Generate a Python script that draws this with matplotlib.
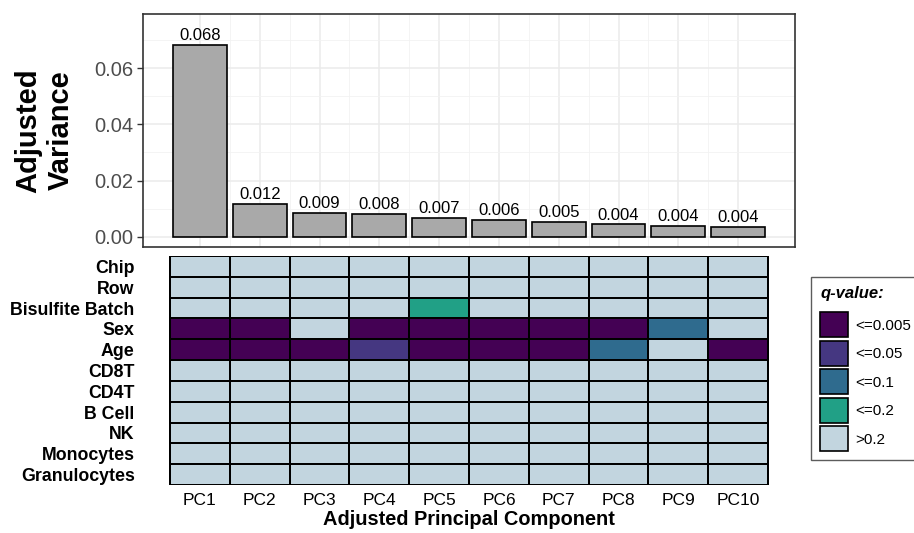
import numpy as np
import matplotlib.pyplot as plt
from matplotlib.patches import Patch
from matplotlib.colors import ListedColormap, BoundaryNorm

plt.rcParams['font.family'] = ['Liberation Sans', 'DejaVu Sans']

pcs = ["PC1", "PC2", "PC3", "PC4", "PC5", "PC6", "PC7", "PC8", "PC9", "PC10"]
variance = [0.0683, 0.0117, 0.0086, 0.0081, 0.0068, 0.0061, 0.0053, 0.0044, 0.0038, 0.0036]

covariates = ["Chip", "Row", "Bisulfite Batch", "Sex", "Age", "CD8T", "CD4T",
              "B Cell", "NK", "Monocytes", "Granulocytes"]
# 0: <=0.005, 1: <=0.05, 2: <=0.1, 3: <=0.2, 4: >0.2
qlevel = [
    [4, 4, 4, 4, 4, 4, 4, 4, 4, 4],
    [4, 4, 4, 4, 4, 4, 4, 4, 4, 4],
    [4, 4, 4, 4, 3, 4, 4, 4, 4, 4],
    [0, 0, 4, 0, 0, 0, 0, 0, 2, 4],
    [0, 0, 0, 1, 0, 0, 0, 2, 4, 0],
    [4, 4, 4, 4, 4, 4, 4, 4, 4, 4],
    [4, 4, 4, 4, 4, 4, 4, 4, 4, 4],
    [4, 4, 4, 4, 4, 4, 4, 4, 4, 4],
    [4, 4, 4, 4, 4, 4, 4, 4, 4, 4],
    [4, 4, 4, 4, 4, 4, 4, 4, 4, 4],
    [4, 4, 4, 4, 4, 4, 4, 4, 4, 4],
]
q_labels = ["<=0.005", "<=0.05", "<=0.1", "<=0.2", ">0.2"]
q_colors = ["#440154", "#453781", "#2F6B8E", "#21A086", "#C2D5DF"]

W, H = 914, 533
fig = plt.figure(figsize=(W / 100, H / 100), dpi=100)

x = np.arange(len(pcs))
xlim = (-0.953, 9.95)

# --- top bar panel ---
ax = fig.add_axes([143 / W, 1 - 247 / H, 652 / W, 233 / H])
ax.bar(x, variance, width=0.9, color="#A9A9A9", edgecolor="black", linewidth=1.2, zorder=3)
for xi, v in zip(x, variance):
    ax.text(xi, v + 0.0006, f"{v:.3f}", ha="center", va="bottom", fontsize=12, zorder=4)
ax.set_xlim(*xlim)
ax.set_ylim(-0.0036, 0.0792)
ax.set_yticks([0, 0.02, 0.04, 0.06])
ax.set_yticklabels(["0.00", "0.02", "0.04", "0.06"])
ax.set_yticks([0.01, 0.03, 0.05, 0.07], minor=True)
ax.set_xticks(x)
ax.set_xticks(x[:-1] + 0.5, minor=True)
ax.grid(which="major", color="#EBEBEB", linewidth=1.1, zorder=0)
ax.grid(which="minor", color="#F2F2F2", linewidth=0.6, zorder=0)
ax.tick_params(axis="x", which="both", length=0, labelbottom=False)
ax.tick_params(axis="y", which="major", labelsize=14.5, labelcolor="#4D4D4D",
               color="#333333", length=4, width=1, pad=3)
ax.tick_params(axis="y", which="minor", length=0)
for s in ax.spines.values():
    s.set_color("#333333")
    s.set_linewidth(1.2)
ax.set_axisbelow(True)
ax.set_ylabel("Adjusted\nVariance", fontsize=21, fontweight="bold", labelpad=14, linespacing=1.2)

# --- heatmap panel ---
hx = fig.add_axes([143 / W, 1 - 485 / H, 652 / W, 229 / H])
cmap = ListedColormap(q_colors)
norm = BoundaryNorm(np.arange(-0.5, 5.5, 1), cmap.N)
hx.pcolormesh(np.arange(-0.5, len(pcs), 1), np.arange(-0.5, len(covariates), 1),
              np.array(qlevel), cmap=cmap, norm=norm, edgecolors="black", linewidth=1.4)
hx.set_xlim(*xlim)
hx.set_ylim(len(covariates) - 0.5, -0.5)
for s in hx.spines.values():
    s.set_visible(False)
hx.set_xticks(x)
hx.set_xticklabels(pcs, fontsize=12.5)
hx.set_yticks(np.arange(len(covariates)))
hx.set_yticklabels(covariates, fontsize=12.8, fontweight="bold")
hx.tick_params(axis="both", length=0)
hx.tick_params(axis="y", pad=6)
hx.tick_params(axis="x", pad=6)
hx.set_xlabel("Adjusted Principal Component", fontsize=14.4, fontweight="bold", labelpad=1)

handles = [Patch(facecolor=c, edgecolor="black", linewidth=1.2, label=l)
           for c, l in zip(q_colors, q_labels)]
leg = fig.legend(handles=handles, loc="upper left", bbox_to_anchor=(811 / W, 1 - 277 / H),
                 borderaxespad=0, title="q-value:", fontsize=11,
                 title_fontproperties={"weight": "bold", "style": "italic", "size": 12},
                 frameon=True, fancybox=False, edgecolor="#333333", handlelength=1.8,
                 handleheight=2.14, labelspacing=0.23, borderpad=0.6, handletextpad=0.5)
leg._legend_box.align = "left"
leg._legend_box.sep = 8
leg.get_frame().set_linewidth(1.0)

fig.savefig("out.png", dpi=100)
